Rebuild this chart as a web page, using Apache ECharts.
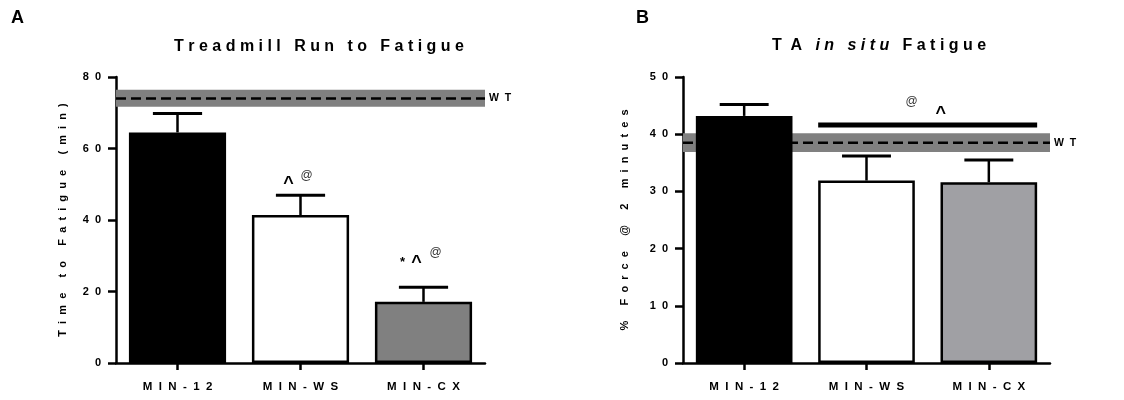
<!DOCTYPE html>
<html><head><meta charset="utf-8">
<script src="https://cdn.jsdelivr.net/npm/echarts@6/dist/echarts.min.js"></script>
<style>html,body{margin:0;padding:0;background:#fff}#c{width:1124px;height:400px}</style>
</head><body><div id="c"></div>
<script>
// ---------- data ----------
const categories = ['MIN-12', 'MIN-WS', 'MIN-CX'];
// Panel A: Treadmill run to fatigue (min)
const runMeans = [64.5, 41.4, 17.1];
const runSEM = [5.3, 5.5, 4.1];
const runWT = [71.7, 76.4, 74.0];        // WT band low, band high, WT mean
const yTicksA = [0, 20, 40, 60, 80];
// Panel B: % force @ 2 minutes
const forceMeans = [43.2, 31.9, 31.6];
const forceSEM = [2.0, 4.3, 3.9];
const forceWT = [36.9, 40.15, 38.5];
const yTicksB = [0, 10, 20, 30, 40, 50];
const sigLineB = [1, 2, 41.6];            // from category, to category, level
// significance marks
const marksA = [[1, '^'], [1, '@'], [2, '*'], [2, '^'], [2, '@']];
const marksB = ['@', '^'];
// texts
const titleA = 'Treadmill Run to Fatigue';
const titleBParts = [['TA', 'n'], ['in situ', 'i'], ['Fatigue', 'n']];
const yNameA = 'Time to Fatigue (min)';
const yNameB = '% Force @ 2 minutes';
const wtLabel = 'WT';

// ---------- styles ----------
const FONT = 'Liberation Sans, Arial, sans-serif';
const barColorsA = ['#000000', '#ffffff', '#808080'];
const barColorsB = ['#000000', '#ffffff', '#a0a0a4'];
const markOffsetsA = [[-12, -11], [6, -20], [-21, -25], [-7, -24], [12, -35]];
const markOffsetsB = [[-16, -23], [13, -11]];
const markFont = {
  '^': 'bold 18px ' + FONT,
  '@': 'normal 12px ' + FONT,
  '*': 'bold 13px ' + FONT
};
const markColor = { '^': '#000', '@': '#333', '*': '#000' };
const BAR_FRAC = 0.79;

function sp(s, n) { return s.split('').join(' '.repeat(n || 1)); }

const chart = echarts.init(document.getElementById('c'), null, { renderer: 'canvas' });

function bandRender(params, api) {
  const cs = params.coordSys;
  const yLo = api.coord([0, api.value(0)])[1];
  const yHi = api.coord([0, api.value(1)])[1];
  const yM = api.coord([0, api.value(2)])[1];
  return {
    type: 'group', children: [
      { type: 'rect', shape: { x: cs.x, y: yHi, width: cs.width, height: yLo - yHi }, style: { fill: '#808080' } },
      { type: 'line', shape: { x1: cs.x, y1: yM, x2: cs.x + cs.width, y2: yM }, style: { stroke: '#000', lineWidth: 2.5, lineDash: [10, 5] } },
      { type: 'text', x: cs.x + cs.width + 4, y: yM, style: { text: sp(wtLabel, 2), font: 'bold 10.5px ' + FONT, fill: '#000', align: 'left', verticalAlign: 'middle' } }
    ]
  };
}

function errRender(params, api) {
  const c = api.value(0), v = api.value(1), e = api.value(2);
  const base = api.coord([c, v]);
  const top = api.coord([c, v + e]);
  const half = api.size([1, 0])[0] * 0.2;
  return {
    type: 'group', children: [
      { type: 'line', shape: { x1: base[0], y1: base[1], x2: top[0], y2: top[1] }, style: { stroke: '#000', lineWidth: 2.5 } },
      { type: 'line', shape: { x1: top[0] - half, y1: top[1], x2: top[0] + half, y2: top[1] }, style: { stroke: '#000', lineWidth: 3 } }
    ]
  };
}

function markRenderA(params, api) {
  const p = api.coord([api.value(0), api.value(1)]);
  const i = api.value(2);
  const t = marksA[i][1];
  const o = markOffsetsA[i];
  return { type: 'text', x: p[0] + o[0], y: p[1] + o[1], style: { text: t, font: markFont[t], fill: markColor[t], align: 'center', verticalAlign: 'middle' } };
}

function sigRenderB(params, api) {
  const y = api.value(2);
  const bw = api.size([1, 0])[0] * BAR_FRAC;
  const p1 = api.coord([api.value(0), y]);
  const p2 = api.coord([api.value(1), y]);
  const x1 = p1[0] - bw / 2, x2 = p2[0] + bw / 2, cx = (x1 + x2) / 2;
  const children = [{ type: 'rect', shape: { x: x1, y: p1[1] - 2.5, width: x2 - x1, height: 5 }, style: { fill: '#000' } }];
  marksB.forEach((t, i) => {
    children.push({ type: 'text', x: cx + markOffsetsB[i][0], y: p1[1] + markOffsetsB[i][1], style: { text: t, font: markFont[t], fill: markColor[t], align: 'center', verticalAlign: 'middle' } });
  });
  return { type: 'group', children };
}

const axisLine = { show: true, lineStyle: { color: '#000', width: 2.5 } };
const axisTick = { show: true, lineStyle: { color: '#000', width: 2.5 } };

function xAxis(gi) {
  return {
    gridIndex: gi, type: 'category', data: categories,
    axisLine: axisLine,
    axisTick: Object.assign({ alignWithLabel: true, length: 7 }, axisTick),
    axisLabel: { formatter: c => sp(c, 2), color: '#000', fontWeight: 'bold', fontSize: 11.5, fontFamily: FONT, margin: 18 },
    splitLine: { show: false }
  };
}
function yAxis(gi, ticks, name, gap) {
  return {
    gridIndex: gi, type: 'value', min: ticks[0], max: ticks[ticks.length - 1], interval: ticks[1] - ticks[0],
    axisLine: axisLine,
    axisTick: Object.assign({ length: 8 }, axisTick),
    axisLabel: { formatter: v => sp(String(v), 2), color: '#000', fontWeight: 'bold', fontSize: 11, fontFamily: FONT, margin: 15 },
    splitLine: { show: false },
    name: sp(name, 2), nameLocation: 'middle', nameRotate: 90, nameGap: gap,
    nameTextStyle: { color: '#000', fontWeight: 'bold', fontSize: 11, fontFamily: FONT }
  };
}

const titleBText = titleBParts.map(([s, k]) => '{' + k + '|' + sp(s, k === 'n' && s.length < 3 ? 2 : 1) + '}').join('{n|   }');

const option = {
  animation: false,
  backgroundColor: '#fff',
  grid: [
    { left: 116, top: 77, width: 369, height: 286, outerBoundsMode: 'none', containLabel: false },
    { left: 683, top: 77, width: 367, height: 286, outerBoundsMode: 'none', containLabel: false }
  ],
  xAxis: [xAxis(0), xAxis(1)],
  yAxis: [yAxis(0, yTicksA, yNameA, 48), yAxis(1, yTicksB, yNameB, 53)],
  graphic: [
    { type: 'text', x: 11, y: 18, style: { text: 'A', font: 'bold 18px ' + FONT, fill: '#000', align: 'left', verticalAlign: 'middle' } },
    { type: 'text', x: 636, y: 18, style: { text: 'B', font: 'bold 18px ' + FONT, fill: '#000', align: 'left', verticalAlign: 'middle' } },
    { type: 'text', x: 319, y: 47, style: { text: sp(titleA, 1), font: 'bold 16px ' + FONT, fill: '#000', align: 'center', verticalAlign: 'middle' } },
    { type: 'text', x: 879, y: 46, style: { text: titleBText, fill: '#000', align: 'center', verticalAlign: 'middle',
        rich: { n: { font: 'bold 16px ' + FONT, fill: '#000' }, i: { font: 'italic bold 16px ' + FONT, fill: '#000' } } } }
  ],
  series: [
    { type: 'custom', xAxisIndex: 0, yAxisIndex: 0, z: 1, renderItem: bandRender, data: [runWT], silent: true },
    { type: 'bar', xAxisIndex: 0, yAxisIndex: 0, z: 2, barWidth: (BAR_FRAC * 100) + '%',
      itemStyle: { borderColor: '#000', borderWidth: 2.5 },
      data: runMeans.map((v, i) => ({ value: v, itemStyle: { color: barColorsA[i] } })) },
    { type: 'custom', xAxisIndex: 0, yAxisIndex: 0, z: 3, renderItem: errRender,
      data: runMeans.map((v, i) => [i, v, runSEM[i]]) },
    { type: 'custom', xAxisIndex: 0, yAxisIndex: 0, z: 4, renderItem: markRenderA,
      data: marksA.map(([c], i) => [c, runMeans[c] + runSEM[c], i]) },

    { type: 'custom', xAxisIndex: 1, yAxisIndex: 1, z: 1, renderItem: bandRender, data: [forceWT], silent: true },
    { type: 'bar', xAxisIndex: 1, yAxisIndex: 1, z: 2, barWidth: (BAR_FRAC * 100) + '%',
      itemStyle: { borderColor: '#000', borderWidth: 2.5 },
      data: forceMeans.map((v, i) => ({ value: v, itemStyle: { color: barColorsB[i] } })) },
    { type: 'custom', xAxisIndex: 1, yAxisIndex: 1, z: 3, renderItem: errRender,
      data: forceMeans.map((v, i) => [i, v, forceSEM[i]]) },
    { type: 'custom', xAxisIndex: 1, yAxisIndex: 1, z: 4, renderItem: sigRenderB, data: [sigLineB] }
  ]
};
chart.setOption(option);
</script>
</body></html>
